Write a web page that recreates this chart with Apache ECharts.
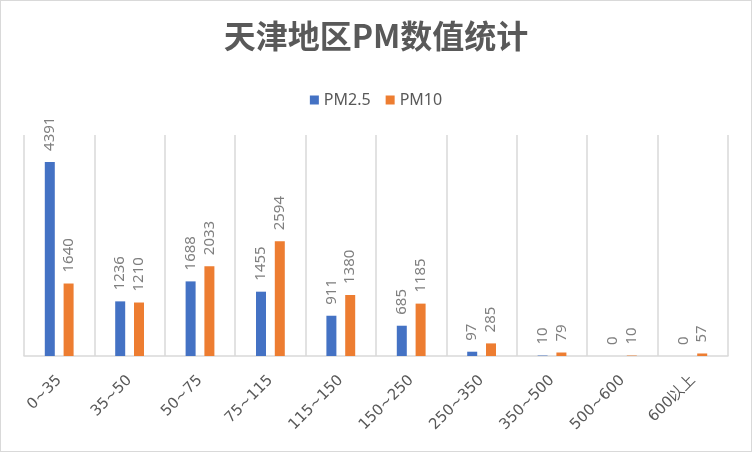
<!DOCTYPE html>
<html><head><meta charset="utf-8">
<script src="https://cdn.jsdelivr.net/npm/echarts@6/dist/echarts.min.js"></script>
<style>html,body{margin:0;padding:0;background:#fff}#c{width:752px;height:452px;box-sizing:border-box;border:1px solid #D9D9D9}</style>
</head><body><div id="c"></div>
<script>
const categories = ['0~35','35~50','50~75','75~115','115~150','150~250','250~350','350~500','500~600','600以上'];
const pm25 = [4391,1236,1688,1455,911,685,97,10,0,0];
const pm10 = [1640,1210,2033,2594,1380,1185,285,79,10,57];
const chart = echarts.init(document.getElementById('c'));
const lbl = {show:true, position:'top', rotate:90, align:'left', verticalAlign:'middle', distance:11, color:'#7F7F7F', fontSize:15, fontFamily:'Noto Sans'};
chart.setOption({
  animation:false,
  textStyle:{fontFamily:'Noto Sans'},
  title:{text:'天津地区PM数值统计', left:'center', top:14, textStyle:{fontSize:32, fontWeight:'bold', color:'#595959', fontFamily:'Noto Sans CJK SC'}},
  legend:{top:86, left:'center', itemWidth:9, itemHeight:9, itemGap:15, icon:'rect', textStyle:{fontSize:16, color:'#595959'}, data:['PM2.5','PM10']},
  grid:{left:23, right:23, top:134, bottom:95},
  xAxis:{type:'category', data:categories, axisTick:{show:false},
    axisLine:{lineStyle:{color:'#D9D9D9', width:1.5}},
    splitLine:{show:true, interval:0, lineStyle:{color:'#D9D9D9', width:1.5}},
    axisLabel:{rotate:45, interval:0, color:'#595959', fontSize:15, fontFamily:'DejaVu Sans', margin:22}},
  yAxis:{type:'value', min:0, max:5000, interval:1000, show:false, splitLine:{show:false}},
  series:[
    {name:'PM2.5', type:'bar', data:pm25, barWidth:10, barGap:'88%', itemStyle:{color:'#4472C4'}, label:lbl},
    {name:'PM10', type:'bar', data:pm10, barWidth:10, itemStyle:{color:'#ED7D31'}, label:lbl}
  ]
});
</script></body></html>
